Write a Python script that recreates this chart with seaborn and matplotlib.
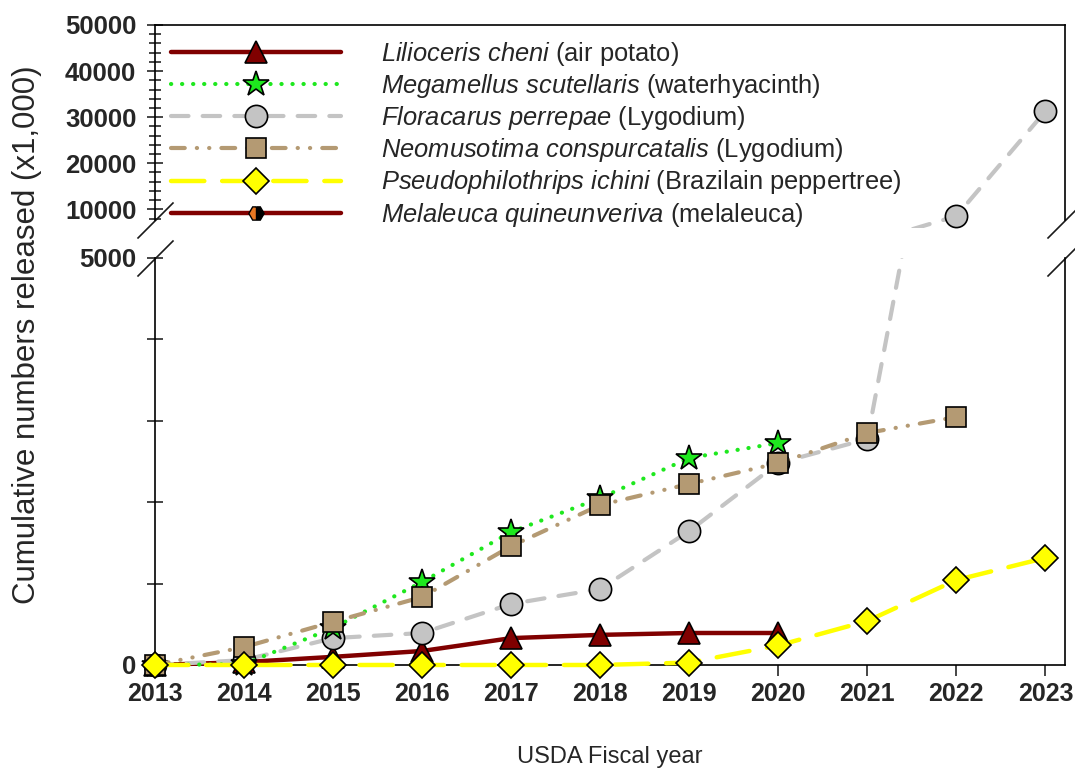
import numpy as np
import pandas as pd
import matplotlib
matplotlib.use('Agg')
import matplotlib.pyplot as plt
import seaborn as sns
from matplotlib.lines import Line2D
from matplotlib.ticker import MultipleLocator
from matplotlib.transforms import Bbox, TransformedBbox

nan = np.nan

# cumulative numbers released (x1,000) per fiscal year
years = [2013, 2014, 2015, 2016, 2017, 2018, 2019, 2020, 2021, 2022, 2023]
lilioceris = [0, 35, 100, 172, 330, 370, 393, 393, nan, nan, nan]
megamellus = [0, 10, 455, 1020, 1634, 2050, 2543, 2727, nan, nan, nan]
floracarus = [0, 60, 330, 393, 750, 934, 1646, 2480, 2776, 8550, 31300]
neomusotima = [0, 220, 530, 835, 1460, 1965, 2224, 2480, 2850, 3047, nan]
pseudophilothrips = [0, 0, 0, 0, 0, 0, 30, 240, 540, 1044, 1315]

labels = [
    r'$\it{Lilioceris\ cheni}$ (air potato)',
    r'$\it{Megamellus\ scutellaris}$ (waterhyacinth)',
    r'$\it{Floracarus\ perrepae}$ (Lygodium)',
    r'$\it{Neomusotima\ conspurcatalis}$ (Lygodium)',
    r'$\it{Pseudophilothrips\ ichini}$ (Brazilain peppertree)',
    r'$\it{Melaleuca\ quineunveriva}$ (melaleuca)',
]

series = [lilioceris, megamellus, floracarus, neomusotima, pseudophilothrips]

styles = [
    dict(color='#800000', marker='^', markersize=16.5, markerfacecolor='#800000',
         linestyle='-', linewidth=3.2, zorder=3),
    dict(color='#1EE81E', marker='*', markersize=19, markerfacecolor='#1EE81E',
         linestyle=(0, (0.05, 2.6)), linewidth=3, zorder=5),
    dict(color='#C4C4C4', marker='o', markersize=16, markerfacecolor='#C4C4C4',
         linestyle=(0, (4.2, 3.4)), linewidth=3, zorder=4),
    dict(color='#B49A73', marker='s', markersize=14.5, markerfacecolor='#B49A73',
         linestyle=(0, (3.3, 2.9, 0.05, 2.9, 0.05, 2.9)), linewidth=3, zorder=6),
    dict(color='#FFFF00', marker='D', markersize=13.5, markerfacecolor='#FFFF00',
         linestyle=(0, (7.5, 4)), linewidth=3.2, zorder=7),
]

sns.set_theme(style='white')
plt.rcParams['font.family'] = ['Liberation Sans', 'DejaVu Sans']
plt.rcParams['mathtext.fontset'] = 'custom'
plt.rcParams['mathtext.it'] = 'Liberation Sans:italic'
plt.rcParams['mathtext.rm'] = 'Liberation Sans'

fig = plt.figure(figsize=(10.75, 7.71), dpi=100)
ax_top = fig.add_axes([0.1442, 0.7147, 0.8465, 0.2529])
ax_bot = fig.add_axes([0.1442, 0.1375, 0.8465, 0.5279])

TOP_MIN = 7700

for ax in (ax_top, ax_bot):
    for vals, st in zip(series, styles):
        # the upper panel only needs the series that go past the break
        if ax is ax_top and np.nanmax(vals) < TOP_MIN:
            continue
        df = pd.DataFrame({'year': years, 'n': vals}).dropna()
        sns.lineplot(data=df, x='year', y='n', ax=ax, markeredgecolor='black',
                     markeredgewidth=1.2, dash_capstyle='round', solid_capstyle='round',
                     **st)
    ax.set_xlim(2013, 2023.22)
    ax.set_xlabel('')
    ax.set_ylabel('')
    for s in ax.spines.values():
        s.set_color('black')
        s.set_linewidth(1.2)

# let markers sitting on the axis edges show in full, but cut lines at the break
clip_top = TransformedBbox(Bbox([[-0.03, -0.042], [1.03, 1.0]]), ax_top.transAxes)
clip_bot = TransformedBbox(Bbox([[-0.03, -0.06], [1.03, 1.0]]), ax_bot.transAxes)
for ax, box in ((ax_top, clip_top), (ax_bot, clip_bot)):
    for line in ax.get_lines():
        line.set_clip_path(None)
        line.set_clip_box(box)

# upper part of the broken axis
ax_top.set_ylim(TOP_MIN, 50000)
ax_top.spines['bottom'].set_visible(False)
ax_top.set_yticks([10000, 20000, 30000, 40000, 50000])
ax_top.yaxis.set_minor_locator(MultipleLocator(2000))
ax_top.tick_params(axis='x', which='both', bottom=False, labelbottom=False)
ax_top.tick_params(axis='y', which='major', direction='inout', length=12, width=1.2,
                   left=True, labelsize=18.5, pad=7.5)
ax_top.tick_params(axis='y', which='minor', direction='inout', length=8, width=1.2, left=True)

# lower part
ax_bot.set_ylim(0, 5000)
ax_bot.spines['top'].set_visible(False)
ax_bot.set_yticks([0, 1000, 2000, 3000, 4000, 5000])
ax_bot.set_yticklabels(['0', '', '', '', '', '5000'])
ax_bot.set_xticks(years)
ax_bot.set_xticklabels([str(y) for y in years])
ax_bot.tick_params(axis='y', direction='inout', length=12, width=1.2, left=True,
                   labelsize=18.5, pad=7.5)
ax_bot.tick_params(axis='x', direction='out', length=8, width=1.2, bottom=True,
                   labelsize=18, pad=4)
for lab in ax_top.get_yticklabels() + ax_bot.get_yticklabels() + ax_bot.get_xticklabels():
    lab.set_fontweight('bold')

# break marks
kw = dict(marker=[(-1, -1), (1, 1)], markersize=26, linestyle='none', color='k',
          mec='k', mew=1.2, clip_on=False)
ax_top.plot([0, 1], [0, 0], transform=ax_top.transAxes, **kw)
ax_bot.plot([0, 1], [1, 1], transform=ax_bot.transAxes, **kw)

# legend
handles = [Line2D([], [], markeredgecolor='black', markeredgewidth=1.2,
                  dash_capstyle='round', solid_capstyle='round', **st) for st in styles]
handles.append(Line2D([], [], color='#800000', linewidth=3.2, marker='H', markersize=11,
                      markerfacecolor='#E87722', markerfacecoloralt='black',
                      fillstyle='left', markeredgecolor='black'))
leg = ax_top.legend(handles, labels, loc='upper left', bbox_to_anchor=(0.159, 0.948),
                    bbox_transform=fig.transFigure, frameon=False, fontsize=18.4,
                    handlelength=6.66, handletextpad=1.57, labelspacing=0.16,
                    borderpad=0, borderaxespad=0, numpoints=1)
leg.set_zorder(20)

fig.text(0.025, 1 - 335 / 771, 'Cumulative numbers released (x1,000)', rotation=90,
         ha='center', va='center', fontsize=22.5)
fig.text(610 / 1075, 1 - 757 / 771, 'USDA Fiscal year', ha='center', va='center',
         fontsize=17)

fig.savefig('out.png', dpi=100)
